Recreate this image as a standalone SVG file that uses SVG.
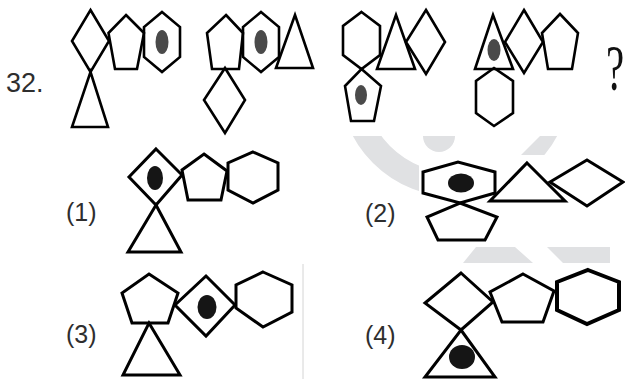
<svg xmlns="http://www.w3.org/2000/svg" width="625" height="379" viewBox="0 0 625 379">
<style>
.s{fill:none;stroke:#000;stroke-width:2.6;stroke-linejoin:miter}
.o{fill:none;stroke:#000;stroke-width:3;stroke-linejoin:miter}
.dq{fill:#4a4a4a}
.do{fill:#151515}
.lbl{font-family:"Liberation Sans",Arial,sans-serif;font-size:25px;fill:#2e2e2e}
.wm{fill:#e0e1e3}
</style>
<defs>
<clipPath id="ringclip"><polygon points="0,0 455,0 455,221 676,0 700,0 700,400 0,400"/></clipPath>
</defs>
<rect width="625" height="379" fill="#fff"/>
<g id="watermark">
<g clip-path="url(#ringclip)">
<circle cx="455" cy="81" r="104" fill="none" stroke="#e0e1e3" stroke-width="24"/>
</g>
<circle class="wm" cx="439" cy="136" r="16"/>
<polygon class="wm" points="476,247 515,247 533,263 463,263"/>
<polygon class="wm" points="547,247 610,247 610,263 563,263"/>
<rect x="0" y="0" width="625" height="136" fill="#fff"/>
<rect x="419" y="155" width="206" height="92" fill="#fff"/>
<line x1="303" y1="264" x2="303" y2="379" stroke="#d4d4d4" stroke-width="1"/>
</g>
<g id="connectors"/>
<text class="lbl" x="6" y="92" style="font-size:27px">32.</text>
<g id="q1">
<polygon class="s" points="90.5,10 109,41 90.5,72 72,41"/>
<polygon class="s" points="90.5,72 108,127 72,127"/>
<polygon class="s" points="126,15 144,33 137,69 115,69 108.5,33"/>
<polygon class="s" points="162,12 180,27 180,57 162,72 144,57 144,27"/>
<ellipse class="dq" cx="162" cy="42" rx="6.5" ry="12"/>
</g>
<g id="q2">
<polygon class="s" points="226,15 243,33 239,69 212,69 207,33"/>
<polygon class="s" points="261,12 279,27 279,57 261,72 243,57 243,27"/>
<ellipse class="dq" cx="261" cy="42" rx="6.5" ry="12"/>
<polygon class="s" points="295,15 313,68 276,68"/>
<polygon class="s" points="225,68 245,100 225,133 204,100"/>
</g>
<g id="q3">
<polygon class="s" points="361.5,12 380,26 380,55 361.5,69 343,55 343,26"/>
<polygon class="s" points="396,15 415,69 377,69"/>
<polygon class="s" points="426,10 445,42 426,74 406,42"/>
<polygon class="s" points="361.5,69 381,86 374,121 351,121 345,86"/>
<ellipse class="dq" cx="361" cy="95" rx="6" ry="10"/>
</g>
<g id="q4">
<polygon class="s" points="493,15 513,69 475,69"/>
<ellipse class="dq" cx="494" cy="50" rx="6.5" ry="11"/>
<polygon class="s" points="524,10 543,42 524,73 505,42"/>
<polygon class="s" points="560,14 578,33 572,69 548,69 542,33"/>
<polygon class="s" points="494,68 513,81 513,113 494,126 476,113 476,81"/>
</g>
<text id="qmark" transform="translate(615,90) scale(0.62,1)" text-anchor="middle" style="font-family:'Liberation Serif','Times New Roman',serif;font-size:66px;fill:#111">?</text>
<g id="opt1">
<text class="lbl" x="66" y="221">(1)</text>
<polygon class="o" points="156,149 182,175 156,205 129,177"/>
<ellipse class="do" cx="155" cy="178" rx="8" ry="12"/>
<polygon class="o" points="156,205 181,252 128,252"/>
<polygon class="o" points="204,154 227,171 221,200 188,200 182,170"/>
<polygon class="o" points="253,152 278,163 278,190 253,203 228,190 228,163"/>
</g>
<g id="opt2">
<text class="lbl" x="365" y="222">(2)</text>
<polygon class="o" points="423,172 458,162 495,172 495,193 460,203 423,193"/>
<ellipse class="do" cx="461" cy="183" rx="13" ry="9.5"/>
<polygon class="o" points="460,203 497,217 485,240 438,240 427,217"/>
<polygon class="o" points="527,163 565,201 490,201"/>
<polygon class="o" points="587,160 623,182 587,206 550,182"/>
</g>
<g id="opt3">
<text class="lbl" x="66" y="343">(3)</text>
<polygon class="o" points="149,274 178,293 168,323 132,323 122,293"/>
<polygon class="o" points="149,323 180,375 123,375"/>
<polygon class="o" points="206,276 235,305 206,336 175,305"/>
<ellipse class="do" cx="207" cy="307" rx="9.5" ry="12"/>
<polygon class="o" points="263,272 292,285 292,312 263,327 236,308 236,285"/>
</g>
<g id="opt4">
<text class="lbl" x="365" y="344">(4)</text>
<polygon class="o" points="461,273 493,302 461,330 425,303"/>
<polygon class="o" points="461,330 495,377 425,377"/>
<ellipse class="do" cx="462" cy="357" rx="13" ry="12"/>
<polygon class="o" points="523,274 554,291 543,322 502,322 490,292"/>
<polygon class="o" points="588,270 619,282 619,310 587,324 557,310 557,282" style="stroke-width:4"/>
</g>
</svg>
